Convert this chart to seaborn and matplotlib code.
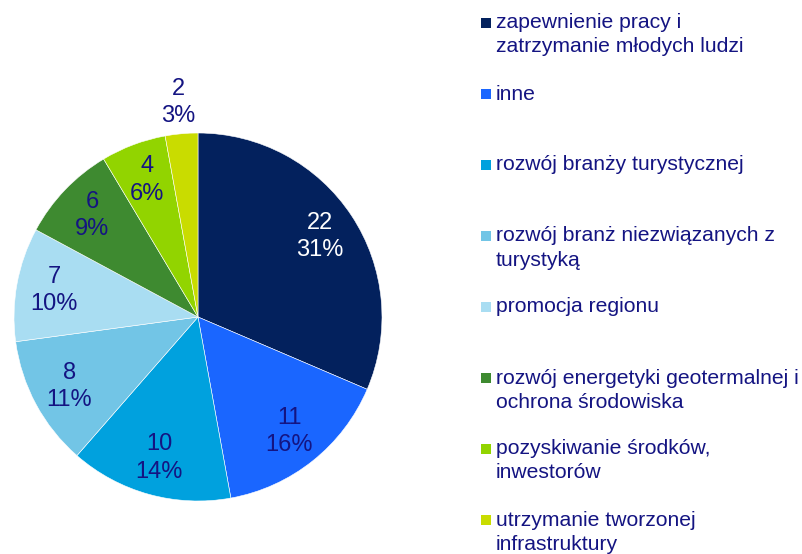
import matplotlib
matplotlib.use("Agg")
import matplotlib.pyplot as plt
from matplotlib.patches import Rectangle
import numpy as np
import seaborn as sns

categories = [
    "zapewnienie pracy i\nzatrzymanie młodych ludzi",
    "inne",
    "rozwój branży turystycznej",
    "rozwój branż niezwiązanych z\nturystyką",
    "promocja regionu",
    "rozwój energetyki geotermalnej i\nochrona środowiska",
    "pozyskiwanie środków,\ninwestorów",
    "utrzymanie tworzonej\ninfrastruktury",
]
counts = [22, 11, 10, 8, 7, 6, 4, 2]
colors = ["#03215D", "#1A66FF", "#00A1DE", "#72C5E6",
          "#A9DDF2", "#3E8A30", "#92D400", "#C9DC00"]

sns.set_theme(style="white")
plt.rcParams["font.family"] = ["Liberation Sans", "DejaVu Sans"]

text_color = "#141482"
W, H = 803, 554
fig = plt.figure(figsize=(W / 100, H / 100), dpi=100)
fig.patch.set_facecolor("white")

# pie axes: centre (198, 317) px, radius 184 px
cx, cy, r = 198, 317, 184
ax = fig.add_axes([(cx - r) / W, (H - cy - r) / H, 2 * r / W, 2 * r / H])

wedges, _ = ax.pie(counts, colors=colors, startangle=90, counterclock=False,
                   radius=1.0, wedgeprops=dict(edgecolor="white", linewidth=0.4))
ax.set_xlim(-1, 1)
ax.set_ylim(-1, 1)
ax.axis("off")

total = sum(counts)
for i, (w, v) in enumerate(zip(wedges, counts)):
    ang = np.deg2rad((w.theta1 + w.theta2) / 2)
    dist = 1.17 if v / total < 0.04 else 0.795
    col = "white" if i == 0 else text_color
    ax.text(dist * np.cos(ang), dist * np.sin(ang),
            f"{v}\n{round(100 * v / total):.0f}%",
            ha="center", va="center", fontsize=17, color=col,
            linespacing=1.3, clip_on=False)

# legend entries on the right
sq = 10.5
for i, (lab, c) in enumerate(zip(categories, colors)):
    yc = 23 + 71 * i
    fig.patches.append(Rectangle((481 / W, (H - yc - sq / 2) / H), sq / W, sq / H,
                                 transform=fig.transFigure, facecolor=c,
                                 edgecolor="none"))
    for j, line in enumerate(lab.split("\n")):
        fig.text(496 / W, (H - (yc + 24 * j)) / H, line, ha="left",
                 va="center", fontsize=15.2, color=text_color)

fig.savefig("out.png", dpi=100, facecolor="white")
